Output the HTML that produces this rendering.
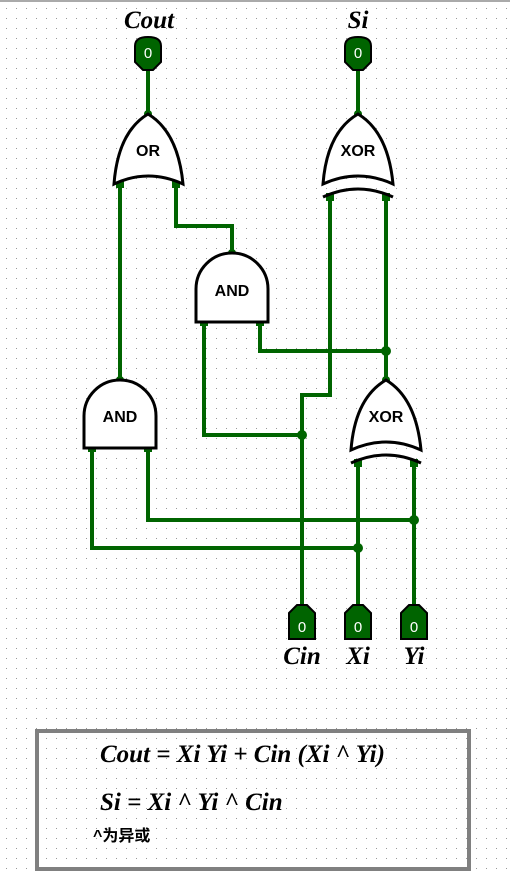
<!DOCTYPE html>
<html><head><meta charset="utf-8"><style>
html,body{margin:0;padding:0;background:#fff;width:510px;height:872px;overflow:hidden}
</style></head><body>
<svg width="510" height="872" viewBox="0 0 510 872" xmlns="http://www.w3.org/2000/svg">
<defs>
<pattern id="g" width="10" height="10" patternUnits="userSpaceOnUse" x="2" y="4">
<rect x="4" y="4" width="1" height="1" fill="#999"/>
</pattern>
</defs>
<rect width="510" height="872" fill="#fff"/>
<rect width="510" height="872" fill="url(#g)"/>
<rect x="0" y="0" width="510" height="2" fill="#aaa"/>

<g stroke="#006400" stroke-width="4" fill="none" stroke-linecap="square">
<line x1="148" y1="70" x2="148" y2="114"/>
<line x1="358" y1="70" x2="358" y2="114"/>
<line x1="120" y1="184" x2="120" y2="380"/>
<polyline points="176,184 176,226 232,226 232,253"/>
<polyline points="330,197 330,395 302,395 302,605"/>
<line x1="386" y1="197" x2="386" y2="380"/>
<polyline points="260,322 260,351 386,351"/>
<polyline points="204,322 204,435 302,435"/>
<polyline points="148,448 148,520 414,520"/>
<polyline points="92,448 92,548 358,548"/>
<line x1="358" y1="463" x2="358" y2="605"/>
<line x1="414" y1="463" x2="414" y2="605"/>
</g>
<g fill="#006400">
<circle cx="148" cy="114" r="4"/><circle cx="358" cy="114" r="4"/>
<circle cx="232" cy="253" r="4"/><circle cx="120" cy="380" r="4"/><circle cx="386" cy="380" r="4"/>
<circle cx="386" cy="351" r="5"/><circle cx="302" cy="435" r="5"/>
<circle cx="414" cy="520" r="5"/><circle cx="358" cy="548" r="5"/>
<rect x="116" y="180" width="8" height="8"/><rect x="172" y="180" width="8" height="8"/>
<rect x="326" y="193" width="8" height="8"/><rect x="382" y="193" width="8" height="8"/>
<rect x="200" y="318" width="8" height="8"/><rect x="256" y="318" width="8" height="8"/>
<rect x="88" y="444" width="8" height="8"/><rect x="144" y="444" width="8" height="8"/>
<rect x="354" y="459" width="8" height="8"/><rect x="410" y="459" width="8" height="8"/>
</g>

<g stroke="#000" stroke-width="3" fill="none">
<path d="M148,114 Q178,132 183,184 Q148,168 114,184 Q118,132 148,114 Z" fill="#fff"/>
<path d="M358,114 Q388,132 393,184 Q358,168 323,184 Q327,132 358,114 Z" fill="#fff"/>
<path d="M323,197 Q358,181 393,197"/>
<path d="M386,380 Q416,398 421,450 Q386,434 351,450 Q355,398 386,380 Z" fill="#fff"/>
<path d="M351,463 Q386,447 421,463"/>
<path d="M196,322 L196,289 A36,36 0 0 1 268,289 L268,322 Z" fill="#fff"/>
<path d="M84,448 L84,416 A36,36 0 0 1 156,416 L156,448 Z" fill="#fff"/>
</g>
<g font-family="Liberation Sans, sans-serif" font-weight="bold" font-size="16" text-anchor="middle" fill="#000">
<text x="148" y="156">OR</text>
<text x="358" y="156">XOR</text>
<text x="386" y="422">XOR</text>
<text x="232" y="296">AND</text>
<text x="120" y="422">AND</text>
</g>

<g fill="#006400" stroke="#000" stroke-width="2">
<path d="M135,46 Q135,37 148,37 Q161,37 161,46 L161,62 L153,70 L143,70 L135,62 Z"/>
<path d="M345,46 Q345,37 358,37 Q371,37 371,46 L371,62 L363,70 L353,70 L345,62 Z"/>
<path d="M289,613 L297,605 L307,605 L315,613 L315,639 L289,639 Z"/>
<path d="M345,613 L353,605 L363,605 L371,613 L371,639 L345,639 Z"/>
<path d="M401,613 L409,605 L419,605 L427,613 L427,639 L401,639 Z"/>
</g>
<g font-family="Liberation Sans, sans-serif" font-size="15" fill="#fff" text-anchor="middle">
<text x="148" y="58">0</text><text x="358" y="58">0</text>
<text x="302" y="632">0</text><text x="358" y="632">0</text><text x="414" y="632">0</text>
</g>
<g font-family="Liberation Serif, serif" font-weight="bold" font-style="italic" font-size="25" text-anchor="middle" fill="#000">
<text x="149" y="28">Cout</text>
<text x="358" y="28">Si</text>
<text x="302" y="664">Cin</text>
<text x="358" y="664">Xi</text>
<text x="414" y="664">Yi</text>
</g>

<rect x="37" y="731" width="432" height="138" fill="none" stroke="#808080" stroke-width="4"/>
<g font-family="Liberation Serif, serif" font-weight="bold" font-style="italic" font-size="25" fill="#000">
<text x="100" y="762">Cout = Xi Yi + Cin (Xi ^ Yi)</text>
<text x="100" y="810">Si = Xi ^ Yi ^ Cin</text>
</g>
<text x="93" y="841" font-family="Liberation Sans, 'Noto Sans CJK SC', sans-serif" font-weight="bold" font-size="16" fill="#000">^为异或</text>
</svg>
</body></html>
